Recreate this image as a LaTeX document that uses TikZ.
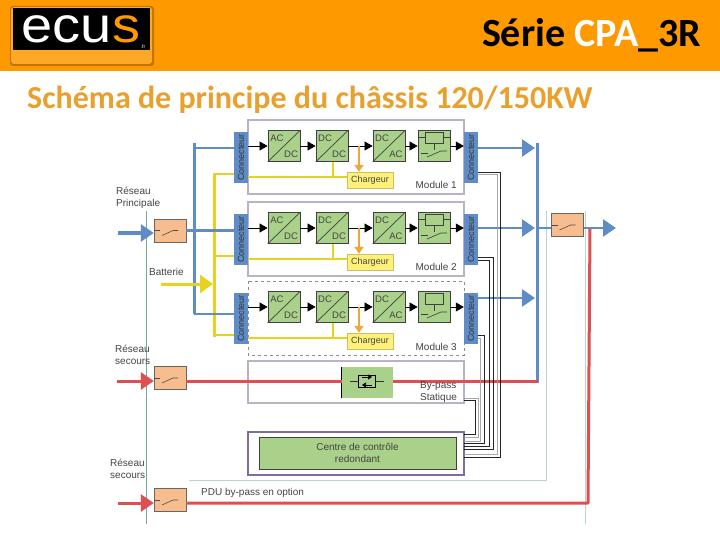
\documentclass[tikz,border=0pt]{standalone}
\usepackage{fontspec}
\setmainfont{Liberation Sans}
\newfontfamily\titlefont{Carlito}
\usetikzlibrary{arrows.meta}
\definecolor{headorange}{HTML}{FF9900}
\definecolor{subtitleorange}{HTML}{E9A02E}
\definecolor{busblue}{HTML}{5F8CC6}
\definecolor{busyellow}{HTML}{E4D31F}
\definecolor{busred}{HTML}{DC5050}
\definecolor{convgreen}{HTML}{A9D18A}
\definecolor{brkorange}{HTML}{F8BD8E}
\definecolor{chgyellow}{HTML}{FFF07A}
\definecolor{tapamber}{HTML}{F0A63A}
\definecolor{framegray}{HTML}{B9B2C9}
\definecolor{ctrlpurple}{HTML}{7F6C9E}
\definecolor{paleteal}{HTML}{B5D8CE}
\definecolor{darkteal}{HTML}{6FAE98}
\definecolor{labelgray}{HTML}{444444}
\tikzset{
  conv/.style={draw=black!75, fill=convgreen, minimum width=32pt, minimum height=31pt, inner sep=0pt, line width=0.8pt},
  convtxt/.style={font=\fontsize{9.5}{10}\selectfont, text=labelgray, inner sep=0pt},
  conn/.style={fill=busblue, minimum width=14pt, minimum height=51pt, inner sep=0pt},
  conntxt/.style={font=\fontsize{9}{9}\selectfont, text=black!80, rotate=90, inner sep=0pt},
  chg/.style={fill=chgyellow, draw=chgyellow!80!black, minimum width=46pt, minimum height=16pt, inner sep=0pt, font=\fontsize{9}{9}\selectfont, text=labelgray},
  brk/.style={fill=brkorange, draw=black!60, minimum width=32pt, minimum height=23pt, inner sep=0pt},
  lbl/.style={font=\fontsize{10}{11.5}\selectfont, text=labelgray, inner sep=0pt, align=left},
  modframe/.style={draw=framegray, line width=1.2pt, fill=white},
  bluebus/.style={busblue, line width=3pt},
  yellowbus/.style={busyellow, line width=3pt},
  redbus/.style={busred, line width=3pt},
  sig/.style={black, line width=0.7pt, -{Triangle[length=8pt,width=9pt]}},
  wire/.style={black, line width=0.5pt, opacity=0.85},
  wirepale/.style={black!40, line width=0.5pt, opacity=0.85},
  bigtip/.style={-{Triangle[length=13pt,width=17pt]}}
}
\newcommand{\convbox}[5]{%
  \node[conv] (#1) at (#2,#3) {};
  \draw[black!75, line width=0.7pt] (#1.south west) -- (#1.north east);
  \node[convtxt] (#1top) at ([shift={(-7,-8)}]#1.center) {#4};
  \node[convtxt] (#1bot) at ([shift={(7,8.5)}]#1.center) {#5};
}
\newcommand{\brkmark}[1]{%
  \draw[black!70, line width=0.6pt] ([shift={(-16,0)}]#1.center) -- +(6,0);
  \draw[black!70, line width=0.6pt] ([shift={(-8,5)}]#1.center) -- +(11,-5) -- +(16,-5);
}
\begin{document}
\begin{tikzpicture}[x=1pt,y=-1pt]
  \useasboundingbox (0,0) rectangle (720,540);
  \fill[white] (0,0) rectangle (720,540);
  \fill[headorange] (0,0) rectangle (720,71);
  \fill[black!25!headorange, rounded corners=3pt] (10,6) rectangle (154,66);
  \fill[headorange!85!white, rounded corners=3pt] (11,7) rectangle (152,64);
  \node[fill=black, minimum width=137pt, minimum height=42pt, inner sep=0pt] (logo) at (81.5,29.5) {};
  \node[inner sep=0pt, font=\fontsize{50}{50}\selectfont, xscale=1.12, text=white] (ecus) at (81,29.5) {ecu\textcolor{headorange}{s}};
  \node[inner sep=0pt, font=\fontsize{5}{5}\selectfont, text=white] (fr) at (143,47) {.fr};
  \node[inner sep=0pt, font=\titlefont\bfseries\fontsize{40}{40}\selectfont] (title) at (591.5,35) {Série \textcolor{white}{CPA}\_3R};
  \node[inner sep=0pt, anchor=west, font=\titlefont\bfseries\fontsize{32}{32}\selectfont, text=subtitleorange] (subtitle) at (27,100) {Schéma de principe du châssis 120/150KW};

  \draw[darkteal, line width=0.8pt] (146.5,211) -- (146.5,524);
  \draw[paleteal, line width=0.8pt] (189,480) -- (546,480) -- (546,211);
  \draw[paleteal, line width=0.8pt] (585.5,211) -- (585.5,524);

  \draw[modframe] (248,361) rectangle (464,403);
  \draw[draw=ctrlpurple, line width=1.5pt, fill=white] (248,432) rectangle (464,475);

  \draw[bluebus] (194,143) -- (194,314);
  \draw[yellowbus] (214,173) -- (214,337);
  \draw[bluebus] (537,143) -- (537,383);

  \foreach \i/\ym/\bl/\br in {1/146/148/148, 2/228/231/228, 3/307/314/298} {
    \ifnum\i=3
      \draw[draw=black!45, dashed, line width=0.8pt, fill=white] (248,\ym-26) rectangle (464,\ym+48);
    \else
      \draw[modframe] (248,\ym-26) rectangle (464,\ym+48);
    \fi
    \node[conn] (connl\i) at (241,\ym+11.5) {};
    \node[conntxt] (connlt\i) at (241,\ym+11.5) {Connecteur};
    \node[conn] (connr\i) at (471,\ym+11.5) {};
    \node[conntxt] (connrt\i) at (471,\ym+11.5) {Connecteur};
    \convbox{acdc\i}{284}{\ym}{AC}{DC}
    \convbox{dcdc\i}{332}{\ym}{DC}{DC}
    \convbox{dcac\i}{389}{\ym}{DC}{AC}
    \node[conv] (relay\i) at (434,\ym) {};
    \node[draw=black!75, fill=convgreen, minimum width=18pt, minimum height=11pt, inner sep=0pt] (coil\i) at (434,\ym-8.5) {};
    \ifnum\i<3
      \draw[black!75, line width=0.6pt] (relay\i.west |- coil\i.west) -- (coil\i.west);
      \draw[black!75, line width=0.6pt] (coil\i.east) -- (relay\i.east |- coil\i.east);
    \fi
    \draw[black!75, line width=0.6pt] (coil\i.south) -- +(0,7);
    \draw[black!75, line width=0.6pt] (421,\ym+7) -- (428,\ym+7);
    \draw[black!75, line width=0.6pt] (427,\ym+11) -- (441,\ym+5) -- (447,\ym+5);
    \node[chg] (chg\i) at (370,\ym+34) {Chargeur};
    \coordinate (tap\i) at (359,\ym);
    \coordinate (dropy\i) at (333,\ym+31);
    \draw[sig] (connl\i.east |- acdc\i.west) -- (acdc\i.west);
    \draw[sig] (acdc\i.east) -- (dcdc\i.west);
    \draw[sig] (dcdc\i.east) -- (dcac\i.west);
    \draw[sig] (dcac\i.east) -- (relay\i.west);
    \draw[sig] (relay\i.east) -- (connr\i.west |- relay\i.east);
    \draw[tapamber, line width=1.8pt, -{Triangle[length=7pt,width=9pt]}] (tap\i) -- (tap\i |- chg\i.north);
    \draw[busyellow, line width=2.2pt] (connl\i.east |- dropy\i) -- (chg\i.west |- dropy\i);
    \draw[busyellow, line width=2.2pt] (dcdc\i.south -| dropy\i) -- (dropy\i);
    \draw[yellowbus, line width=2.4pt] (214,\ym+28) -- (connl\i.west |- 0,\ym+28);
    \draw[bluebus, line width=2.4pt] (194,\bl) -- (connl\i.west |- 0,\bl);
    \coordinate (outbus\i) at (535,\br);
    \draw[bluebus, line width=2.4pt, bigtip] (connr\i.east |- outbus\i) -- (outbus\i);
  }
  \node[lbl, anchor=east] (mod1) at (457,185) {Module 1};
  \node[lbl, anchor=east] (mod2) at (457,267) {Module 2};
  \node[lbl, anchor=east] (mod3) at (457,347) {Module 3};

  \node[brk] (brkmain) at (170,230.5) {};
  \node[brk] (brkback) at (170,378) {};
  \node[brk] (brkpdu) at (170,500) {};
  \node[brk] (brkout) at (567.5,225) {};
  \brkmark{brkmain}
  \brkmark{brkback}
  \brkmark{brkpdu}
  \brkmark{brkout}

  \coordinate (inmain) at (118,233);
  \coordinate (inback) at (117,381);
  \coordinate (inpdu) at (118,503);
  \coordinate (inbat) at (161,284);
  \coordinate (batbus) at (213,284);
  \coordinate (cornerpdu) at (588,503);
  \coordinate (outend) at (616,228);
  \draw[bluebus, bigtip] (inmain) -- (brkmain.west |- inmain);
  \draw[bluebus, line width=2.4pt] (brkmain.east) -- (connl2.west |- brkmain.east);
  \draw[yellowbus, -{Triangle[length=13pt,width=18pt]}] (inbat) -- (batbus);
  \draw[redbus, bigtip] (inback) -- (brkback.west |- inback);
  \draw[redbus, bigtip] (inpdu) -- (brkpdu.west |- inpdu);
  \draw[bluebus, line width=2.4pt] (537,228) -- (brkout.west |- 0,228);
  \draw[redbus, line join=round] (brkpdu.east |- inpdu) -- (cornerpdu) -- (590,228);
  \draw[bluebus, line width=2.4pt, bigtip] (brkout.east |- outend) -- (outend);

  \node[fill=convgreen, minimum width=51pt, minimum height=31pt, inner sep=0pt] (bypass) at (367.5,382.5) {};
  \draw[black, line width=0.9pt] (bypass.north west) -- (bypass.south west);
  \draw[redbus] (brkback.east |- inback) -- (bypass.west |- inback);
  \draw[redbus] (bypass.east |- inback) -- (538,381);
  \draw[black!80, line width=0.6pt] (350,381) -- (384,381);
  \node[draw=black, fill=convgreen, minimum width=17pt, minimum height=12pt, inner sep=0pt] (thy) at (367,381) {};
  \draw[black, line width=0.6pt, -{Triangle[length=4pt,width=5pt]}] (362,377) -- (372,377);
  \draw[black, line width=0.6pt, -{Triangle[length=4pt,width=5pt]}] (372,385) -- (362,385);
  \node[lbl, anchor=west] (bypasstxt) at (420,392) {By-pass\\Statique};

  \node[fill=convgreen, draw=black!75, line width=0.8pt, minimum width=197pt, minimum height=32pt, inner sep=0pt, align=center, font=\fontsize{10}{11.5}\selectfont, text=labelgray] (ctrl) at (357.5,453) {Centre de contrôle\\redondant};

  \draw[wire] (connr1.east |- 0,172) -- (500,172) -- (500,457) -- (464,457);
  \draw[wirepale] (connr1.east |- 0,174) -- (497,174) -- (497,454) -- (464,454);
  \draw[wire] (connr2.east |- 0,257) -- (493,257) -- (493,449) -- (464,449);
  \draw[wire] (connr2.east |- 0,260) -- (489,260) -- (489,446) -- (464,446);
  \draw[wire] (connr3.east |- 0,335) -- (484,335) -- (484,443) -- (464,443);
  \draw[wirepale] (connr3.east |- 0,338) -- (480,338) -- (480,441) -- (464,441);
  \draw[wirepale] (464,398) -- (478,398) -- (478,437) -- (464,437);
  \draw[wire] (464,400) -- (475,400) -- (475,434) -- (464,434);

  \node[lbl, anchor=west] (resprinc) at (116,198) {Réseau\\Principale};
  \node[lbl, anchor=west] (batlbl) at (149,272) {Batterie};
  \node[lbl, anchor=west] (ressec) at (115,355) {Réseau\\secours};
  \node[lbl, anchor=west] (resback) at (110,469) {Réseau\\secours};
  \node[lbl, anchor=west] (pdulbl) at (201,493) {PDU by-pass en option};
\end{tikzpicture}
\end{document}
